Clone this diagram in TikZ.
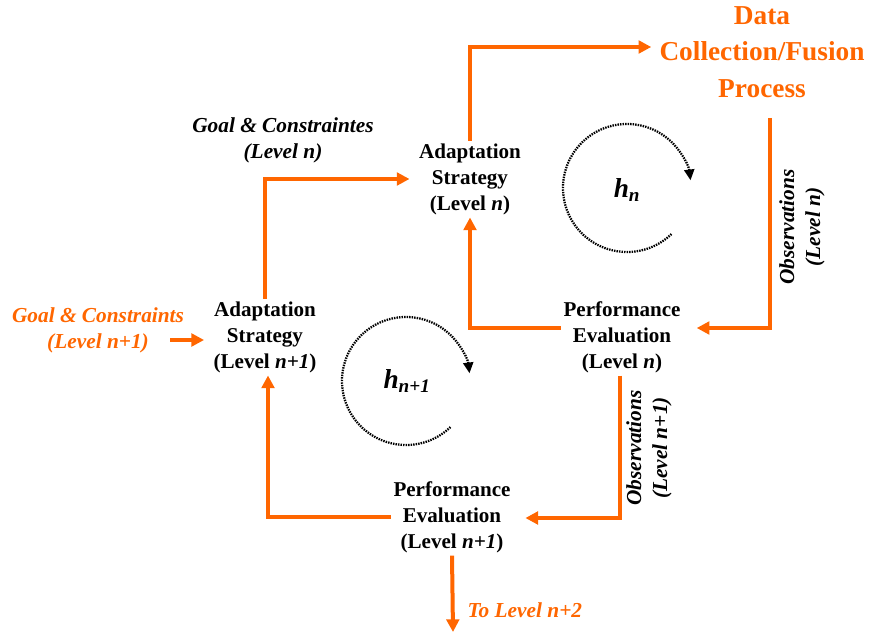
\documentclass[tikz,border=0pt]{standalone}
\usepackage{fontspec}
\setmainfont{Liberation Serif}
\usetikzlibrary{arrows.meta}
\definecolor{org}{HTML}{FF6600}
\begin{document}
\begin{tikzpicture}[x=0.75pt,y=-0.75pt,
  box/.style={font=\bfseries\fontsize{15.8}{19.5}\selectfont, align=center, inner sep=2pt},
  lbl/.style={font=\bfseries\itshape\fontsize{16}{19.5}\selectfont, align=center, inner sep=1pt},
  oarr/.style={draw=org, line width=3pt, -{Triangle[length=9.5pt,width=9.5pt]}},
  cyc/.style={line width=1.7pt, dash pattern=on 1.1pt off 0.8pt, -{Triangle[length=8pt,width=7.5pt]}},
]
\useasboundingbox (0,0) rectangle (870,634);
% nodes
\node[box] (asn) at (470,179) {Adaptation\\Strategy\\(Level \textit{n})};
\node[box] (pen) at (622,337) {Performance\\Evaluation\\(Level \textit{n})};
\node[box] (asn1) at (265,337) {Adaptation\\Strategy\\(Level \textit{n+1})};
\node[box] (pen1) at (452,517) {Performance\\Evaluation\\(Level \textit{n+1})};
\node[box, text=org, font=\bfseries\fontsize{20.5}{27.5}\selectfont] (data) at (762,52) {Data\\Collection/Fusion\\Process};
\node[lbl] (gn) at (283,140) {Goal \& Constraintes\\(Level n)};
\node[lbl, text=org] (gn1) at (98,330) {Goal \& Constraints\\(Level n+1)};
\node[lbl, rotate=90] (obsn) at (802,227) {Observations\\(Level n)};
\node[lbl, rotate=90] (obsn1) at (649,448) {Observations\\(Level n+1)};
\node[lbl, text=org, anchor=west] (to) at (466,610) {To Level n+2};
\node[font=\bfseries\itshape\fontsize{20.5}{24}\selectfont] (hn) at (627,190) {h\textsubscript{n}};
\node[font=\bfseries\itshape\fontsize{20.5}{24}\selectfont] (hn1) at (407,381) {h\textsubscript{n+1}};
% free ends
\coordinate (dout) at (770,118);
\coordinate (gin) at (170,340);
\coordinate (down) at (453,632);
% connectors
\draw[oarr] (asn.north) |- ([xshift=-4pt]data.west |- 0,47);
\draw[oarr] (dout) |- ([xshift=10pt]pen.east |- 0,328);
\draw[oarr] (pen.west |- 0,328) -| (asn.south);
\draw[oarr] (asn1.north) |- ([xshift=-5pt]asn.west);
\draw[oarr] (pen.south -| 620,0) |- ([xshift=9pt]pen1.east |- 0,518);
\draw[oarr] (pen1.west |- 0,517) -| (asn1.south -| 268,0);
\draw[oarr] (gin) -- ([xshift=-5pt]asn1.west |- gin);
\draw[oarr] (pen1.south) -- (down);
% cycles
\draw[cyc] (627,188) ++(46:64) arc[start angle=46, end angle=353, radius=64];
\draw[cyc] (406,381) ++(46:64) arc[start angle=46, end angle=353, radius=64];
\end{tikzpicture}
\end{document}
